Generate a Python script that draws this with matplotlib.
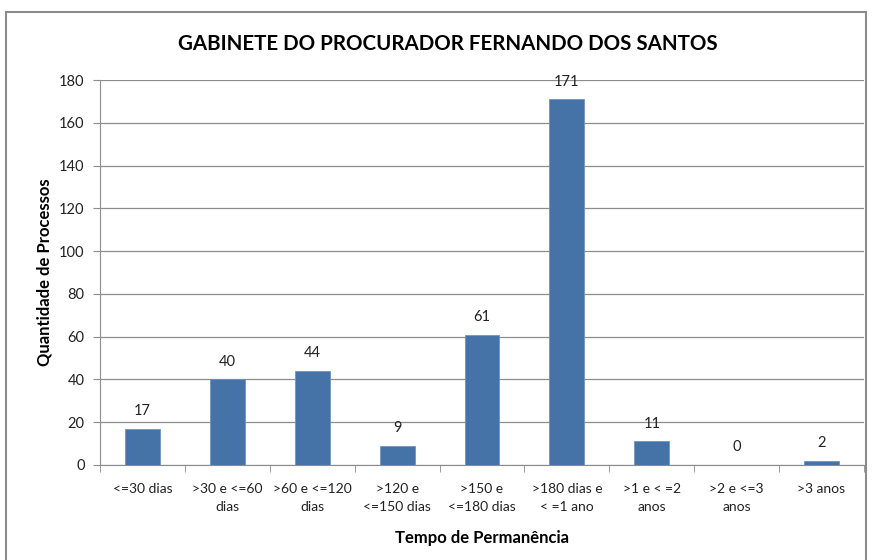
import matplotlib.pyplot as plt
from matplotlib.patches import Rectangle
import numpy as np

categorias = ['<=30 dias', '>30 e <=60\ndias', '>60 e <=120\ndias', '>120 e\n<=150 dias',
              '>150 e\n<=180 dias', '>180 dias e\n< =1 ano', '>1 e < =2\nanos',
              '>2 e <=3\nanos', '>3 anos']
processos = [17, 40, 44, 9, 61, 171, 11, 0, 2]
y_ticks = [0, 20, 40, 60, 80, 100, 120, 140, 160, 180]

plt.rcParams['font.family'] = ['Lato', 'DejaVu Sans']

fig = plt.figure(figsize=(8.73, 5.6), dpi=100)
ax = fig.add_axes([100 / 873, 1 - 465 / 560, 764 / 873, 385 / 560])

# moldura cinza do grafico
fig.patches.append(Rectangle((6 / 873, -0.01), 860 / 873, 1 - 12 / 560 + 0.01,
                             transform=fig.transFigure, fill=False,
                             edgecolor='#8c8c8c', linewidth=1.5))

x = np.arange(len(categorias))
ax.bar(x, processos, width=0.41, color='#4572A7', edgecolor='#6f93c0', linewidth=0.6, zorder=3)
for xi, v in zip(x, processos):
    ax.text(xi, v + 5, str(v), ha='center', va='bottom', fontsize=10.5, color='#222222')

ax.set_xlim(-0.5, len(categorias) - 0.5)
ax.set_ylim(0, 180)
ax.set_yticks(y_ticks)
ax.yaxis.grid(True, color='#8c8c8c', linewidth=0.9, zorder=0)
ax.set_axisbelow(True)
for s in ['top', 'right']:
    ax.spines[s].set_visible(False)
ax.spines['left'].set_color('#8c8c8c')
ax.spines['bottom'].set_color('#8c8c8c')

ax.set_xticks(x)
ax.set_xticklabels(categorias, fontsize=10, color='#222222', linespacing=1.6)
ax.tick_params(axis='x', length=0, pad=13)
ax.set_xticks(np.arange(-0.5, len(categorias), 1), minor=True)
ax.tick_params(axis='x', which='minor', length=5, color='#8c8c8c', direction='out')
ax.tick_params(axis='y', length=5, color='#8c8c8c', labelsize=10.5, labelcolor='#222222', pad=6)

ax.set_xlabel('Tempo de Permanência', fontsize=12, fontweight='bold', labelpad=12)
ax.set_ylabel('Quantidade de Processos', fontsize=12, fontweight='bold', labelpad=5)
fig.text(448 / 873, 1 - 44 / 560, 'GABINETE DO PROCURADOR FERNANDO DOS SANTOS',
         ha='center', va='center', fontsize=14.8, fontweight='bold')

fig.savefig('out.png', dpi=100)
